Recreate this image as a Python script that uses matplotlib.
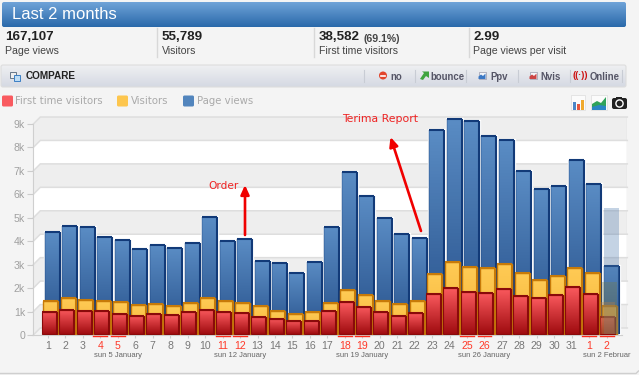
import numpy as np
import matplotlib
matplotlib.use('Agg')
import matplotlib.pyplot as plt
from matplotlib.patches import FancyBboxPatch, Rectangle, Circle, Polygon

# Values
day_labels = [str(d) for d in range(1, 32)] + ['1', '2']
weekend = [4, 5, 11, 12, 18, 19, 25, 26, 32, 33]
page_views = [4390, 4640, 4600, 4170, 4060, 3690, 3860, 3720, 3930, 5030, 3990,
              4090, 3150, 3080, 2660, 3120, 4620, 6970, 5950, 5000, 4290, 4120,
              8760, 9230, 9120, 8480, 8300, 6980, 6210, 6350, 7480, 6450, 2960]
visitors = [1470, 1580, 1500, 1470, 1400, 1300, 1320, 1250, 1370, 1570, 1470,
            1380, 1230, 1040, 900, 980, 1370, 1910, 1720, 1470, 1320, 1440,
            2620, 3110, 2920, 2860, 3030, 2650, 2360, 2510, 2860, 2650, 1250]
first_time = [1000, 1070, 1040, 1010, 900, 830, 900, 850, 970, 1070, 970,
              930, 780, 680, 610, 610, 1010, 1400, 1210, 980, 830, 930,
              1750, 1990, 1850, 1810, 1970, 1680, 1570, 1720, 2040, 1750, 780]
ghost_day = 33
ghost_values = [5400, 2280, 1420]  # page views, visitors, first time

week_pos = [5, 12, 19, 26, 33]
week_labels = ['sun 5 January', 'sun 12 January', 'sun 19 January', 'sun 26 January', 'sun 2 Februar']
y_ticks = list(range(0, 10000, 1000))
y_labels = ['0'] + ['%dk' % k for k in range(1, 10)]

stat_values = ['167,107', '55,789', '38,582', '2.99']
stat_names = ['Page views', 'Visitors', 'First time visitors', 'Page views per visit']
stat_x = [5, 162, 319, 473]

W, H = 639, 375
BG = '#f4f4f4'
FONT = 'Liberation Sans'
plt.rcParams['font.family'] = [FONT, 'DejaVu Sans']

fig = plt.figure(figsize=(W / 100, H / 100), dpi=100, facecolor=BG)

# page furniture, in pixel coordinates
pg = fig.add_axes([0, 0, 1, 1], zorder=1)
pg.set_xlim(0, W)
pg.set_ylim(H, 0)
pg.axis('off')


def v_grad(top, bottom):
    c0 = np.array(matplotlib.colors.to_rgb(top))
    c1 = np.array(matplotlib.colors.to_rgb(bottom))
    t = np.linspace(0, 1, 64)[:, None]
    return (c0 * (1 - t) + c1 * t)[:, None, :]


def grad_box(x0, y0, x1, y1, top, bottom, edge=None):
    box = FancyBboxPatch((x0, y0), x1 - x0, y1 - y0, boxstyle='round,pad=0,rounding_size=2',
                         fc='none', ec=edge or 'none', lw=0.8, zorder=2)
    pg.add_patch(box)
    im = pg.imshow(v_grad(top, bottom), extent=(x0, x1, y1, y0), aspect='auto', zorder=1)
    im.set_clip_path(box)


grad_box(2, 2, 626, 27, '#6fa3d8', '#2a69aa')
pg.text(12, 14.5, 'Last 2 months', color='white', fontsize=12, va='center')

for x, val, name in zip(stat_x, stat_values, stat_names):
    pg.text(x, 36.5, val, fontsize=9.6, fontweight='bold', color='#222222', va='center')
    pg.text(x, 50.5, name, fontsize=7.6, color='#444444', va='center')
pg.text(363, 39, '(69.1%)', fontsize=7.6, fontweight='bold', color='#444444', va='center')
for x in [157, 314, 469]:
    pg.plot([x, x], [28, 57], color='#d8d8d8', lw=1)

# compare toolbar
grad_box(1, 65, 626, 87, '#eff0f2', '#d5d9e3', edge='#dddddd')
pg.add_patch(Rectangle((10, 71.5), 6, 6, fc='#eeeeee', ec='#667788', lw=0.7, zorder=3))
pg.add_patch(Rectangle((13.5, 74.5), 6, 6, fc='#bcdcf5', ec='#3b7fc4', lw=0.7, zorder=3))
pg.text(26, 76, 'COMPARE', fontsize=7.2, fontweight='bold', color='#222222', va='center', zorder=3)
for x in [364, 415, 466, 518, 570, 622]:
    pg.plot([x, x], [70, 82], color='#c8ccd4', lw=0.8, zorder=3)
for x, name in zip([390, 430.5, 490, 540, 590], ['no', 'bounce', 'Ppv', 'Nvis', 'Online']):
    pg.text(x, 76.5, name, fontsize=6.9, fontweight='bold', color='#556', va='center', zorder=3)
pg.add_patch(Circle((383, 75.5), 4, fc='#e2452c', ec='none', zorder=3))
pg.plot([381, 385], [75.5, 75.5], color='white', lw=1.2, zorder=4)
pg.add_patch(Polygon([[420, 79], [424, 73], [422, 71.5], [429, 71.5], [429, 78], [426, 76], [423, 80]],
                     fc='#3fa43f', ec='none', zorder=3))
for x, c in [(482, '#3b78c4'), (533, '#cc4444')]:
    pg.add_patch(Rectangle((x - 3.5, 71.5), 7, 7.5, fc='#f4f6fa', ec='#99a', lw=0.5, zorder=3))
    pg.add_patch(Polygon([[x - 3.5, 79], [x - 3.5, 76.5], [x - 1, 74.5], [x + 1, 76], [x + 3.5, 73.5], [x + 3.5, 79]],
                         fc=c, ec='none', zorder=4))
pg.text(580, 75, '((·))', fontsize=6.5, fontweight='bold', color='#cc1111', va='center', ha='center', zorder=3)

# legend
for x, c, tx, name in [(2, '#f95a5f', 15, 'First time visitors'),
                       (117, '#fdc64e', 131, 'Visitors'),
                       (183, '#5285bd', 197, 'Page views')]:
    pg.add_patch(FancyBboxPatch((x, 95.5), 11, 11, boxstyle='round,pad=0,rounding_size=1.5', fc=c, ec='none'))
    pg.text(tx, 101.5, name, fontsize=8.1, fontfamily='DejaVu Sans', fontstretch='condensed',
            color='#aaaaaa', va='center')

# small icons at the right of the legend
pg.add_patch(Rectangle((571, 95), 14, 15, fc='#fbfbfb', ec='#dddddd', lw=0.5))
for x, h, c in [(573, 8, '#4c86c6'), (577, 6, '#e5553d'), (581, 10, '#f0a92c')]:
    pg.add_patch(Rectangle((x, 110 - h), 3, h, fc=c, ec='none'))
pg.add_patch(Rectangle((591, 95), 16, 15, fc='#fbfbfb', ec='#dddddd', lw=0.5))
pg.add_patch(Polygon([[592, 110], [592, 104], [597, 101], [601, 103], [606, 97], [606, 110]], fc='#2fa35a', ec='none'))
pg.add_patch(Polygon([[592, 110], [592, 107], [599, 105], [606, 106], [606, 110]], fc='#2a86c4', ec='none'))
pg.add_patch(FancyBboxPatch((612, 98), 15, 11, boxstyle='round,pad=0,rounding_size=2', fc='#222222', ec='none'))
pg.add_patch(Rectangle((616, 96.5), 6, 2, fc='#222222', ec='none'))
pg.add_patch(Circle((619.5, 103.5), 3.6, fc='#222222', ec='white', lw=1))

# bottom edge of the panel
pg.plot([0, 636, 638.5], [373.5, 373.5, 371], color='#cfcfcf', lw=1)

# chart area, same px scale as the picture: 17.46 px per day, 23.44 px per 1000
px_x, px_y = 17.46, 23.44 / 1000
x_lo, x_hi = 1 - 14.7 / px_x, 33 + 20.6 / px_x
y_hi = 9300
ax = fig.add_axes([33.3 / W, (H - 335) / H, (627.3 - 33.3) / W, y_hi * px_y / H], zorder=2)
ax.patch.set_alpha(0)
ax.set_xlim(x_lo, x_hi)
ax.set_ylim(0, y_hi)

wall_dx, wall_dy = 7 / px_x, 300
for k in range(0, 9000, 1000):
    band = '#eeeeee' if (k // 1000) % 2 == 0 else 'white'
    ax.fill([x_lo, x_lo + wall_dx, x_hi, x_hi, x_lo + wall_dx, x_lo],
            [k, k + wall_dy, k + wall_dy, k + 1000 + wall_dy, k + 1000 + wall_dy, k + 1000],
            color=band, lw=0, zorder=0.5)
for k in range(0, 10000, 1000):
    ax.plot([x_lo, x_lo + wall_dx, x_hi], [k, k + wall_dy, k + wall_dy], color='#dedede', lw=1.1, zorder=1,
            clip_on=False, solid_joinstyle='miter')
ax.plot([x_hi, x_hi], [wall_dy, 9000 + wall_dy], color='#dedede', lw=1, zorder=1)

days = np.arange(1, len(page_views) + 1)
bar_w = 15 / px_x
base = 40


def gradient_bars(xs, vals, top, bottom, edge, z, side_lw=0.5):
    bars = ax.bar(xs, np.array(vals) - base, bottom=base, width=bar_w, fc='none', ec=edge, lw=side_lw, zorder=z + 0.2)
    for b in bars:
        x0, w, h = b.get_x(), b.get_width(), b.get_height()
        ax.imshow(v_grad(top, bottom), extent=(x0, x0 + w, base, base + h), aspect='auto', zorder=z)
    # the 3d look: heavier top and right edges
    ax.hlines(vals, xs - bar_w / 2, xs + bar_w / 2, color=edge, lw=1.5, zorder=z + 0.3)
    ax.vlines(xs + bar_w / 2, base, vals, color=edge, lw=1.5, zorder=z + 0.3)


# white halo behind the blue bars
ax.bar(days + 4.5 / px_x, np.array(page_views) - base, bottom=base, width=bar_w, color='white', ec='white', lw=2.4, zorder=2)
gradient_bars(days + 4.5 / px_x, page_views, '#5a8cc4', '#26508a', '#123a78', 3, side_lw=0.3)
gradient_bars(days + 2.8 / px_x, visitors, '#ffcb55', '#f4b53a', '#c77a08', 4, side_lw=1.0)
gradient_bars(days + 1.2 / px_x, first_time, '#fb5a5e', '#a00c10', '#8a0a0a', 5, side_lw=0.8)

# faded forecast for the current day
ghost_cols = ['#4a76ab', '#7a7a40', '#c08040']
for off, val, col in zip([4.5, 2.8, 1.2], ghost_values, ghost_cols):
    ax.bar(ghost_day + off / px_x, val - base, bottom=base, width=bar_w, color=col, alpha=0.32, lw=0, zorder=6)

ax.set_xticks(days)
ax.set_xticklabels(day_labels)
ax.set_yticks(y_ticks)
ax.set_yticklabels(y_labels)
ax.tick_params(axis='y', length=4, width=0.8, color='#cccccc', labelcolor='#a0a0a0', labelsize=7.6, pad=2)
ax.tick_params(axis='x', length=2.5, width=0.8, color='#cccccc', labelcolor='#777777', labelsize=7.6, pad=2)
for pos, lab in zip(days, ax.get_xticklabels()):
    if pos in weekend:
        lab.set_color('#ff3a2a')
for s in ['top', 'right']:
    ax.spines[s].set_visible(False)
for s in ['left', 'bottom']:
    ax.spines[s].set_color('#cfcfcf')
ax.spines['left'].set_bounds(0, 9000)
ax.spines['bottom'].set_bounds(x_lo, 33.88)

# red underline on weekend days
trans = ax.get_xaxis_transform()
for d in weekend:
    ax.plot([d - 0.4, d + 0.4], [-0.004, -0.004], color='#ff2a1a', lw=1, transform=trans, clip_on=False, zorder=7)
for p, name in zip(week_pos, week_labels):
    ax.annotate(name, (p, 0), xycoords=trans, xytext=(0, -17), textcoords='offset pixels',
                ha='center', va='top', fontsize=5.5, color='#666666', annotation_clip=False)

# hand-drawn notes
notes = fig.add_axes([0, 0, 1, 1], zorder=3)
notes.set_xlim(0, W)
notes.set_ylim(H, 0)
notes.axis('off')
notes.text(208, 186, 'Order', fontsize=7.6, color='#ee2222', va='center', fontfamily='DejaVu Sans')
notes.text(342, 119.5, 'Terima Report', fontsize=7.8, color='#ee2222', va='center', fontfamily='DejaVu Sans')
arrow = dict(arrowstyle='-|>,head_width=0.25,head_length=0.55', color='#f00000', lw=1.9, shrinkA=0, shrinkB=0)
notes.annotate('', xy=(245, 185), xytext=(245, 235), arrowprops=arrow)
notes.annotate('', xy=(390.5, 137), xytext=(421, 231), arrowprops=arrow)

fig.savefig('out.png', dpi=100, facecolor=BG)
